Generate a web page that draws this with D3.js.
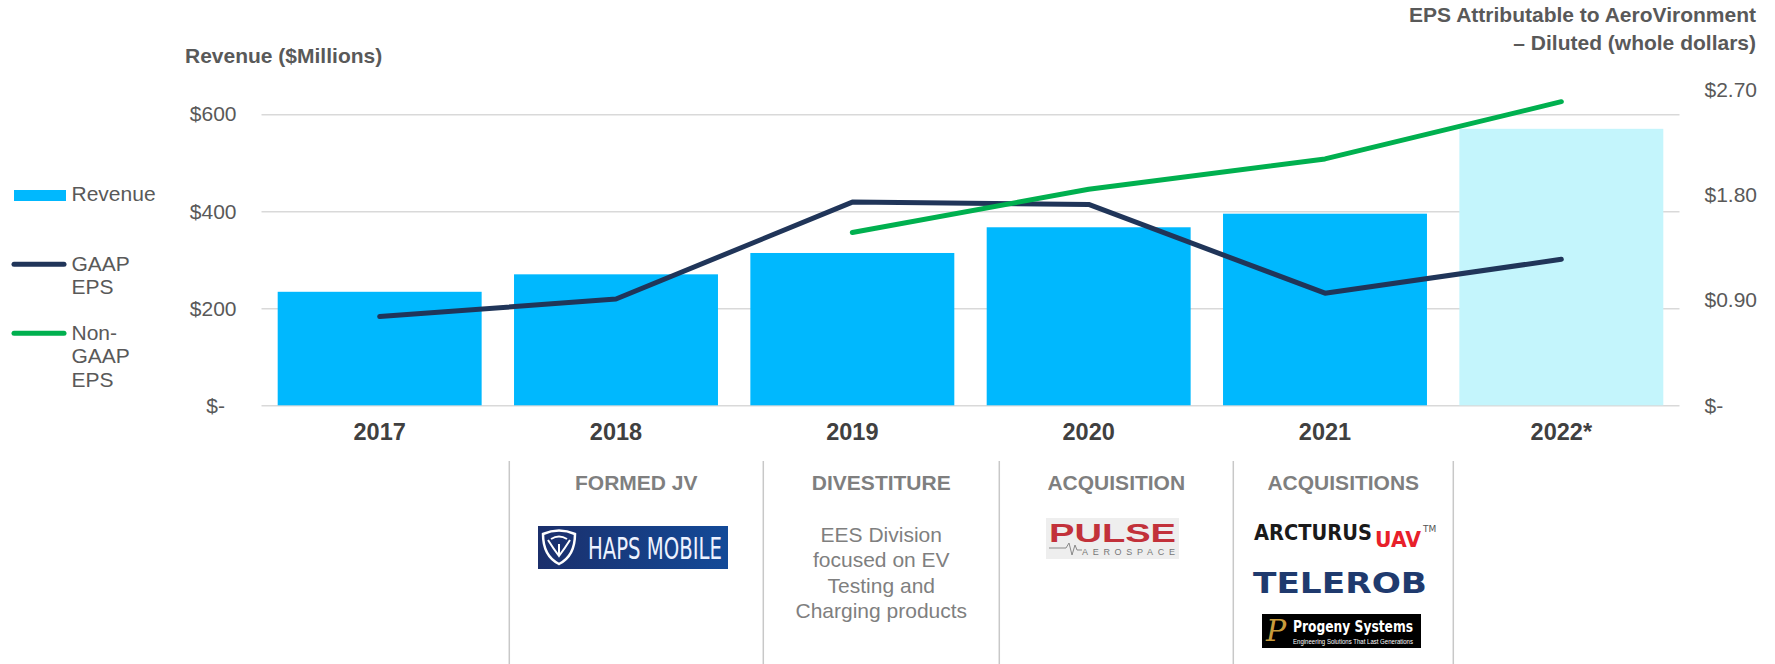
<!DOCTYPE html>
<html>
<head>
<meta charset="utf-8">
<script src="https://cdn.jsdelivr.net/npm/d3@7"></script>
<style>
  body { margin: 0; background: #fff; }
  svg text { font-family: "Liberation Sans", Arial, sans-serif; }
  .grid line { stroke: #d9d9d9; stroke-width: 1.5px; }
  .grid path, .eps path { display: none; }
  .grid text, .eps text { fill: #595959; font-size: 21px; }
</style>
</head>
<body>
<svg id="chart" width="1775" height="664"></svg>
<script>
// fiscal years, revenue ($M) and diluted EPS
const years = ["2017", "2018", "2019", "2020", "2021", "2022*"];
const revenue = [234, 270, 314, 367, 395, 570];
const gaapEps = [0.76, 0.91, 1.74, 1.72, 0.96, 1.25];
const nonGaapEps = [null, null, 1.48, 1.85, 2.11, 2.60];
const revenueTicks = [0, 200, 400, 600];
const epsTicks = [0, 0.9, 1.8, 2.7];
const forecastYear = "2022*";

// corporate events table under the axis
const eventHeads = ["FORMED JV", "DIVESTITURE", "ACQUISITION", "ACQUISITIONS"];
const eventNotes = [[], ["EES Division", "focused on EV", "Testing and", "Charging products"], [], []];

const barColor = "#00b8fe", forecastColor = "#c4f5fc";
const gaapColor = "#203559", nonGaapColor = "#00b04f";

const svg = d3.select("#chart");
const plot = { left: 261.5, right: 1679.5, top: 90, bottom: 405.3 };

const x = d3.scaleBand()
  .domain(years)
  .range([plot.left, plot.right])
  .paddingInner(0.137)
  .paddingOuter(0.0685);
const yL = d3.scaleLinear().domain([0, 650]).range([plot.bottom, plot.top]);
const yR = d3.scaleLinear().domain([0, 2.7]).range([plot.bottom, plot.top]);
const cx = d => x(d) + x.bandwidth() / 2;

// left axis + gridlines
const gL = svg.append("g")
  .attr("class", "grid")
  .attr("transform", "translate(" + plot.left + ",0)")
  .call(d3.axisLeft(yL)
    .tickValues(revenueTicks)
    .tickSize(-(plot.right - plot.left))
    .tickPadding(25)
    .tickFormat(d => d === 0 ? "$-" : "$" + d));
gL.selectAll(".tick text").filter(d => d === 0).attr("x", -36.5);

// right axis, labels only
svg.append("g")
  .attr("class", "eps")
  .attr("transform", "translate(" + plot.right + ",0)")
  .call(d3.axisRight(yR)
    .tickValues(epsTicks)
    .tickSize(0)
    .tickPadding(25)
    .tickFormat(d => d === 0 ? "$-" : "$" + d.toFixed(2)));

// bars
svg.append("g").selectAll("rect")
  .data(years)
  .enter()
  .append("rect")
  .attr("x", d => x(d))
  .attr("y", (d, i) => yL(revenue[i]))
  .attr("width", x.bandwidth())
  .attr("height", (d, i) => yL(0) - yL(revenue[i]))
  .attr("fill", d => d === forecastYear ? forecastColor : barColor);

// eps lines
const line = d3.line()
  .defined(d => d.v != null)
  .x(d => cx(d.year))
  .y(d => yR(d.v));
[[gaapEps, gaapColor], [nonGaapEps, nonGaapColor]].forEach(([vals, col]) => {
  svg.append("path")
    .datum(years.map((y, i) => ({ year: y, v: vals[i] })))
    .attr("d", line)
    .attr("fill", "none")
    .attr("stroke", col)
    .attr("stroke-width", 5)
    .attr("stroke-linecap", "round")
    .attr("stroke-linejoin", "round");
});

// year labels
svg.append("g").selectAll("text")
  .data(years)
  .enter()
  .append("text")
  .attr("x", d => cx(d))
  .attr("y", 433.5)
  .attr("text-anchor", "middle")
  .attr("dominant-baseline", "middle")
  .attr("font-size", 23.5)
  .attr("font-weight", "bold")
  .attr("fill", "#404040")
  .text(d => d);

// axis titles
svg.append("text")
  .attr("x", 185).attr("y", 57)
  .attr("dominant-baseline", "middle")
  .attr("font-size", 21).attr("font-weight", "bold").attr("fill", "#595959")
  .text("Revenue ($Millions)");
svg.append("text")
  .attr("text-anchor", "end")
  .attr("font-size", 21).attr("font-weight", "bold").attr("fill", "#595959")
  .selectAll("tspan")
  .data(["EPS Attributable to AeroVironment", "– Diluted (whole dollars)"])
  .enter()
  .append("tspan")
  .attr("x", 1756)
  .attr("y", (d, i) => 16.7 + i * 27.6)
  .attr("dominant-baseline", "middle")
  .text(d => d);

// legend
const legend = svg.append("g");
legend.append("rect")
  .attr("x", 14).attr("y", 190).attr("width", 52).attr("height", 11)
  .attr("fill", barColor);
[[264.3, gaapColor], [333.3, nonGaapColor]].forEach(([ly, col]) => {
  legend.append("line")
    .attr("x1", 14).attr("x2", 64).attr("y1", ly).attr("y2", ly)
    .attr("stroke", col).attr("stroke-width", 5).attr("stroke-linecap", "round");
});
const legendText = [
  [195, ["Revenue"]],
  [265, ["GAAP", "EPS"]],
  [334.3, ["Non-", "GAAP", "EPS"]]
];
legendText.forEach(([ty, lines]) => {
  legend.append("text")
    .attr("font-size", 21).attr("fill", "#595959")
    .selectAll("tspan")
    .data(lines)
    .enter()
    .append("tspan")
    .attr("x", 71.5)
    .attr("y", (d, i) => ty + i * 23.5)
    .attr("dominant-baseline", "middle")
    .text(d => d);
});

// events table
const colEdges = [509.3, 763.3, 999.3, 1233.3, 1453.3];
const colMid = i => (colEdges[i] + colEdges[i + 1]) / 2;
svg.append("g").selectAll("line")
  .data(colEdges)
  .enter()
  .append("line")
  .attr("x1", d => d).attr("x2", d => d)
  .attr("y1", 461).attr("y2", 664)
  .attr("stroke", "#c8c8c8").attr("stroke-width", 1.5);
svg.append("g").selectAll("text")
  .data(eventHeads)
  .enter()
  .append("text")
  .attr("x", (d, i) => colMid(i))
  .attr("y", 484.5)
  .attr("text-anchor", "middle")
  .attr("dominant-baseline", "middle")
  .attr("font-size", 21).attr("font-weight", "bold").attr("fill", "#7f7f7f")
  .text(d => d);
eventNotes.forEach((lines, i) => {
  svg.append("text")
    .attr("text-anchor", "middle")
    .attr("font-size", 21).attr("fill", "#7f7f7f")
    .selectAll("tspan")
    .data(lines)
    .enter()
    .append("tspan")
    .attr("x", colMid(i))
    .attr("y", (d, j) => 536 + j * 25.6)
    .attr("dominant-baseline", "middle")
    .text(d => d);
});

// company logos, drawn roughly
const defs = svg.append("defs");
const hg = defs.append("linearGradient").attr("id", "haps");
hg.append("stop").attr("offset", "0%").attr("stop-color", "#1b2f6b");
hg.append("stop").attr("offset", "100%").attr("stop-color", "#134a98");

const haps = svg.append("g").attr("transform", "translate(538,526)");
haps.append("rect").attr("width", 190).attr("height", 43).attr("fill", "url(#haps)");
haps.append("path")
  .attr("d", "M5,8 Q21,1 37,8 Q37,30 21,38 Q5,30 5,8 Z")
  .attr("fill", "none").attr("stroke", "#fff").attr("stroke-width", 2.5);
haps.append("path")
  .attr("d", "M10,14 Q15,22 21,30 Q27,22 32,14 M13,13 Q21,8 29,13 M21,18 L21,30")
  .attr("fill", "none").attr("stroke", "#fff").attr("stroke-width", 2);
haps.append("text")
  .attr("x", 50).attr("y", 33)
  .attr("font-size", 31).attr("fill", "#eef3ff")
  .style("font-family", "'DejaVu Sans Condensed', 'Liberation Sans Narrow', sans-serif")
  .attr("textLength", 134).attr("lengthAdjust", "spacingAndGlyphs")
  .text("HAPS MOBILE");

const pulse = svg.append("g").attr("transform", "translate(1046,518)");
pulse.append("rect").attr("width", 133).attr("height", 41).attr("fill", "#eeeeee");
pulse.append("text")
  .attr("x", 3).attr("y", 24)
  .attr("font-size", 25).attr("font-weight", "bold").attr("fill", "#c2313a")
  .attr("textLength", 127).attr("lengthAdjust", "spacingAndGlyphs")
  .text("PULSE");
pulse.append("path")
  .attr("d", "M3,30 L20,30 L23,25 L26,37 L29,27 L31,32 L36,32")
  .attr("fill", "none").attr("stroke", "#888").attr("stroke-width", 1);
pulse.append("text")
  .attr("x", 36).attr("y", 37)
  .attr("font-size", 9).attr("fill", "#777")
  .attr("textLength", 93).attr("lengthAdjust", "spacing")
  .text("AEROSPACE");

// arcturus wordmark as one text so the parts sit side by side
const arct = svg.append("text")
  .attr("font-weight", "bold")
  .style("font-family", "'DejaVu Sans', sans-serif");
arct.append("tspan")
  .attr("x", 1254).attr("y", 540)
  .attr("font-size", 21).attr("fill", "#1a1a1a")
  .attr("textLength", 118).attr("lengthAdjust", "spacingAndGlyphs")
  .text("ARCTURUS");
arct.append("tspan")
  .attr("x", 1375).attr("y", 547)
  .attr("font-size", 21).attr("fill", "#e8202a")
  .attr("textLength", 46).attr("lengthAdjust", "spacingAndGlyphs")
  .text("UAV");
arct.append("tspan")
  .attr("x", 1423).attr("y", 532)
  .attr("font-size", 9).attr("font-weight", "normal").attr("fill", "#555")
  .text("TM");

svg.append("text")
  .attr("x", 1253).attr("y", 593)
  .attr("font-size", 28).attr("font-weight", "bold").attr("fill", "#1f3a6e")
  .style("font-family", "'DejaVu Sans', sans-serif")
  .attr("textLength", 174).attr("lengthAdjust", "spacingAndGlyphs")
  .text("TELEROB");

const prog = svg.append("g").attr("transform", "translate(1262,614)");
prog.append("rect").attr("width", 159).attr("height", 34).attr("fill", "#000");
prog.append("text")
  .attr("x", 4).attr("y", 27)
  .attr("font-size", 30).attr("font-style", "italic").attr("fill", "#c89b3c")
  .style("font-family", "'DejaVu Serif', serif")
  .text("P");
prog.append("text")
  .attr("x", 31).attr("y", 18)
  .attr("font-size", 16).attr("font-weight", "bold").attr("fill", "#fff")
  .style("font-family", "'DejaVu Sans Condensed', 'Liberation Sans Narrow', sans-serif")
  .attr("textLength", 120).attr("lengthAdjust", "spacingAndGlyphs")
  .text("Progeny Systems");
prog.append("text")
  .attr("x", 31).attr("y", 30)
  .attr("font-size", 6.5).attr("fill", "#fff")
  .attr("textLength", 120).attr("lengthAdjust", "spacingAndGlyphs")
  .text("Engineering Solutions That Last Generations");
</script>
</body>
</html>
